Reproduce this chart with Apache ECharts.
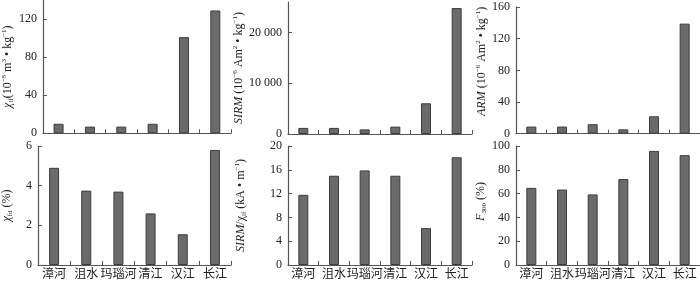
<!DOCTYPE html>
<html>
<head>
<meta charset="utf-8">
<script src="https://cdn.jsdelivr.net/npm/echarts@6/dist/echarts.min.js"></script>
<style>html,body{margin:0;padding:0;background:#fff}#c{width:700px;height:281px}</style>
</head>
<body>
<div id="c"></div>
<script>
var categories = ['漳河', '沮水', '玛瑙河', '清江', '汉江', '长江'];
var chiLf = [10, 7, 7, 10, 101, 129];
var sirm = [1200, 1200, 900, 1450, 6050, 24800];
var arm = [9, 9, 12, 5.5, 22, 139];
var chiFd = [4.9, 3.75, 3.7, 2.6, 1.55, 5.8];
var sirmChi = [11.8, 15.0, 15.9, 15.0, 6.2, 18.1];
var f300 = [64.8, 63.4, 59.3, 72.2, 95.9, 92.3];

var ticksChiLf = [0, 40, 80, 120];
var ticksSirm = [0, 10000, 20000];
var ticksArm = [0, 40, 80, 120, 160];
var ticksChiFd = [0, 2, 4, 6];
var ticksSirmChi = [0, 4, 8, 12, 16, 20];
var ticksF300 = [0, 20, 40, 60, 80, 100];

var SERIF = '"Liberation Serif","DejaVu Serif",serif';
var CJK = '"Liberation Serif","Noto Sans CJK SC",serif';
var AXC = '#555';

var rich = {
  n: {fontFamily: SERIF, fontSize: 12, color: '#222', lineHeight: 14},
  i: {fontFamily: SERIF, fontSize: 12, fontStyle: 'italic', color: '#222', lineHeight: 14},
  sub: {fontFamily: SERIF, fontSize: 7, color: '#222', lineHeight: 7, verticalAlign: 'bottom'},
  sup: {fontFamily: SERIF, fontSize: 7, color: '#222', lineHeight: 7, verticalAlign: 'top'}
};

var panels = [
  {data: chiLf, ticks: ticksChiLf, max: 140, grid: {left: 37, width: 194, top: 0, height: 133.3}, labels: false,
   name: '{i|χ}{sub|lf}{n|(10}{sup|−8}{n| m}{sup|3}{n| • kg}{sup|−1}{n|)}', gap: 25, pad: [0, 0, 0, 0]},
  {data: sirm, ticks: ticksSirm, max: 26000, grid: {left: 288, width: 184, top: 2, height: 132}, labels: false,
   name: '{i|SIRM}{n| (10}{sup|−6}{n| Am}{sup|2}{n| • kg}{sup|−1}{n|)}', gap: 40, pad: [0, 0, 0, 0]},
  {data: arm, ticks: ticksArm, max: 160, grid: {left: 516, width: 188, top: 7, height: 126.7}, labels: false,
   name: '{i|ARM}{n| (10}{sup|−6}{n| Am}{sup|2}{n| • kg}{sup|−1}{n|)}', gap: 24, pad: [0, 0, 0, 18]},
  {data: chiFd, ticks: ticksChiFd, max: 6, grid: {left: 37, width: 194, top: 146, height: 120.5}, labels: true,
   name: '{i|χ}{sub|fd}{n| (%)}', gap: 24, pad: [0, 0, 0, 0]},
  {data: sirmChi, ticks: ticksSirmChi, max: 20, grid: {left: 288, width: 184, top: 146, height: 120.5}, labels: true,
   name: '{i|SIRM}{n|/χ}{sub|lf}{n| (kA • m}{sup|−1}{n|)}', gap: 40, pad: [0, 0, 0, 0]},
  {data: f300, ticks: ticksF300, max: 100, grid: {left: 516, width: 188, top: 146, height: 120.5}, labels: true,
   name: '{i|F}{sub|300}{n| (%)}', gap: 24, pad: [0, 0, 0, 8]}
];

function fmt(v) {
  if (v >= 1000) {
    var s = String(v);
    return s.slice(0, s.length - 3) + ' ' + s.slice(s.length - 3);
  }
  return String(v);
}

var option = {
  animation: false,
  backgroundColor: '#fff',
  grid: [], xAxis: [], yAxis: [], series: []
};

panels.forEach(function (p, k) {
  option.grid.push(p.grid);
  option.xAxis.push({
    type: 'category', gridIndex: k, data: categories, boundaryGap: true,
    axisLine: {lineStyle: {color: AXC, width: 1.2}},
    axisTick: {show: true, inside: true, length: 4, lineStyle: {color: AXC}},
    axisLabel: {show: p.labels, interval: 0, margin: 4, color: '#222', fontSize: 12, fontFamily: CJK}
  });
  option.yAxis.push({
    type: 'value', gridIndex: k, min: 0, max: p.max,
    splitLine: {show: false},
    axisLine: {show: true, lineStyle: {color: AXC, width: 1.2}},
    axisTick: {show: true, inside: true, length: 4, customValues: p.ticks, lineStyle: {color: AXC}},
    axisLabel: {customValues: p.ticks, margin: 6, color: '#222', fontSize: 12, fontFamily: SERIF, formatter: fmt},
    name: p.name, nameLocation: 'middle', nameGap: p.gap,
    nameTextStyle: {rich: rich, padding: p.pad}
  });
  option.series.push({
    type: 'bar', xAxisIndex: k, yAxisIndex: k, data: p.data, barWidth: 10,
    itemStyle: {color: '#6b6b6b', borderColor: '#3c3c3c', borderWidth: 1}
  });
});

var chart = echarts.init(document.getElementById('c'), null, {renderer: 'canvas'});
chart.setOption(option);
</script>
</body>
</html>
